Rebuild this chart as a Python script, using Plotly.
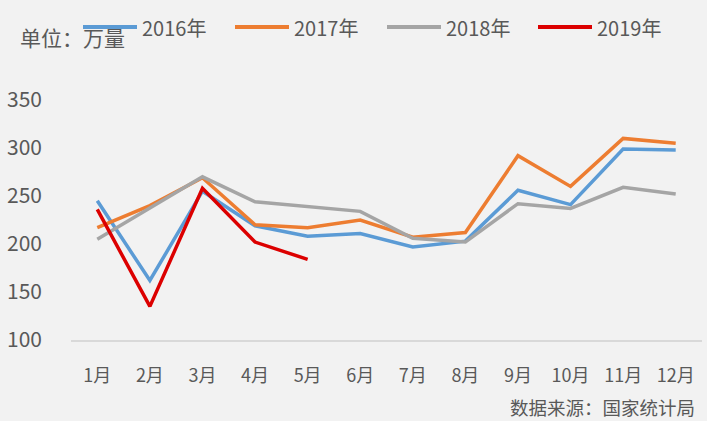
import plotly.graph_objects as go

months = ["1月", "2月", "3月", "4月", "5月", "6月", "7月", "8月", "9月", "10月", "11月", "12月"]
y2016 = [245, 162, 255, 219, 208, 211, 197, 203, 256, 241, 299, 298]
y2017 = [217, 240, 269, 220, 217, 225, 207, 212, 292, 260, 310, 305]
y2018 = [205, 238, 270, 244, 239, 234, 206, 202, 242, 237, 259, 252]
y2019 = [236, 135, 258, 202, 184]
series_names = ["2016年", "2017年", "2018年", "2019年"]
colors = ["#5B9BD5", "#ED7D31", "#A5A5A5", "#DC0000"]
yticks = [100, 150, 200, 250, 300, 350]

FONT = "Noto Sans CJK SC"
TXT = "#595959"
W, H = 707, 421
ML, MR, MT, MB = 71, 5, 100, 81
pw, ph = W - ML - MR, H - MT - MB


def px(x):
    return (x - ML) / pw


def py(y):
    return (H - MB - y) / ph


fig = go.Figure()
for name, vals, c in zip(series_names, [y2016, y2017, y2018, y2019], colors):
    fig.add_trace(go.Scatter(x=months[:len(vals)], y=vals, name=name, mode="lines",
                             line=dict(color=c, width=3.5), showlegend=False))

fig.update_layout(
    width=W, height=H,
    paper_bgcolor="#F2F2F2", plot_bgcolor="#F2F2F2",
    margin=dict(l=ML, r=MR, t=MT, b=MB),
    font=dict(family=FONT, color=TXT, size=18),
    showlegend=False,
    xaxis=dict(type="category", categoryorder="array", categoryarray=months,
               range=[-0.5, 11.5], showgrid=False, showline=True, linecolor="#D9D9D9",
               linewidth=2, ticks="", tickfont=dict(size=18, color=TXT),
               ticklabelstandoff=18, zeroline=False),
    yaxis=dict(range=[100, 350], tickvals=yticks, showgrid=False, showline=False,
               zeroline=False, ticks="", tickfont=dict(size=21, color=TXT),
               ticklabelstandoff=28),
)

# custom legend (line sample + label) in the header
leg_x0 = [83, 235, 387, 538]
leg_y = 27
for x0, name, c in zip(leg_x0, series_names, colors):
    fig.add_shape(type="line", xref="paper", yref="paper",
                  x0=px(x0), x1=px(x0 + 54), y0=py(leg_y), y1=py(leg_y),
                  line=dict(color=c, width=4))
    fig.add_annotation(text=name, x=px(x0 + 57), y=py(leg_y + 1), xref="paper", yref="paper",
                       showarrow=False, xanchor="left", yanchor="middle",
                       font=dict(size=20, color=TXT))

fig.add_annotation(text="单位：万量", x=px(18), y=py(37), xref="paper", yref="paper",
                   showarrow=False, xanchor="left", yanchor="middle",
                   font=dict(size=21, color=TXT))
fig.add_annotation(text="数据来源：国家统计局", x=px(696), y=py(421), xref="paper", yref="paper",
                   showarrow=False, xanchor="right", yanchor="bottom", borderpad=0,
                   font=dict(size=18.5, color=TXT))

fig.write_html("out.html", config={"displayModeBar": False},
               post_script="document.body.style.margin='0';document.body.style.padding='0';")
